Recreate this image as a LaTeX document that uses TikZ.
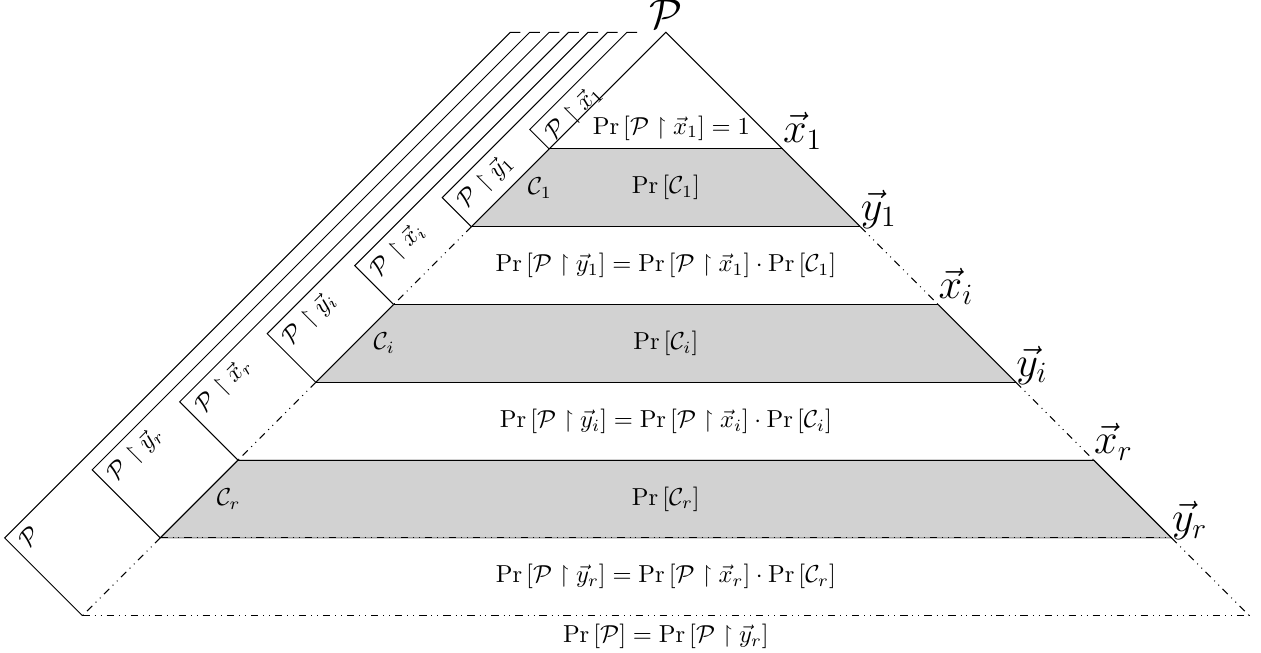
\documentclass[tikz,border=0pt]{standalone}
\usepackage{amsmath,amssymb}
\usepackage{tikz}
\usetikzlibrary{positioning}

\newcommand{\prob}[1]{\Pr\left[#1\right]}
\newcommand{\rst}{\restriction}

\begin{document}
\begin{tikzpicture}[x=1.114cm, y=1.114cm]
    \tikzstyle{gap} = [dash dot dot]
    \tikzstyle{cell} = [fill=gray!35]
    \tikzstyle{point} = [anchor=base west, inner sep=0pt, yshift=2.5pt, font=\LARGE]
    \tikzstyle{striplabel} = [rotate=45, anchor=north west]

    \useasboundingbox (-8.56,-0.479) rectangle (7.65,7.915);

    \coordinate (apex) at (0,7.5);
    \foreach \l in {0,...,6} {
        \coordinate (l\l) at ({\l-7.5},\l);
        \coordinate (r\l) at ({7.5-\l},\l);
    }

    % Shaded conditions
    \fill[cell] (l6) -- (r6) -- (r5) -- (l5) -- cycle;
    \fill[cell] (l4) -- (r4) -- (r3) -- (l3) -- cycle;
    \fill[cell, draw=gray] (l2) -- (r2) -- (r1) -- (l1) -- cycle;

    % Sides of the pyramid
    \draw (l5) -- (apex) -- (r5);
    \draw[gap] (l5) -- (l4);  \draw[gap] (r5) -- (r4);
    \draw (l4) -- (l3);       \draw (r4) -- (r3);
    \draw[gap] (l3) -- (l2);  \draw[gap] (r3) -- (r2);
    \draw (l2) -- (l1);       \draw (r2) -- (r1);
    \draw[gap] (l1) -- (l0);  \draw[gap] (r1) -- (r0);

    % Levels
    \foreach \l in {2,...,6} {
        \draw (l\l) -- (r\l);
    }
    \draw[gap] (l1) -- (r1);
    \draw[gap] (l0) -- (r0);

    % Strips along the left side
    \foreach \k/\lab in {1/{\mathcal{P}\rst\vec{x}_1}, 2/{\mathcal{P}\rst\vec{y}_1},
                         3/{\mathcal{P}\rst\vec{x}_i}, 4/{\mathcal{P}\rst\vec{y}_i},
                         5/{\mathcal{P}\rst\vec{x}_r}, 6/{\mathcal{P}\rst\vec{y}_r},
                         7/{\mathcal{P}}} {
        \pgfmathtruncatemacro{\lev}{7-\k}
        \pgfmathsetmacro{\s}{0.25*\k+0.25}
        \draw (l\lev) -- ++({-\s/2},{\s/2}) coordinate (o\k) -- ({-\s},7.5) -- ++(0.13,0);
        \node[striplabel] (s\k) at (o\k) {$\lab$};
    }

    % Points on the right side
    \node[above=1.5pt of apex, inner sep=0pt, font=\LARGE] (top) {$\mathcal{P}$};
    \node[point] (x1) at (r6) {$\vec{x}_1$};
    \node[point] (y1) at (r5) {$\vec{y}_1$};
    \node[point] (xi) at (r4) {$\vec{x}_i$};
    \node[point] (yi) at (r3) {$\vec{y}_i$};
    \node[point] (xr) at (r2) {$\vec{x}_r$};
    \node[point] (yr) at (r1) {$\vec{y}_r$};

    % Probabilities
    \node[anchor=south] (p0) at (0.07,6) {$\prob{\mathcal{P}\rst\vec{x}_1} = 1$};
    \node (c1) at (-1.62,5.5) {$\mathcal{C}_1$};
    \node (pc1) at (0,5.5) {$\prob{\mathcal{C}_1}$};
    \node (p1) at (0,4.5) {$\prob{\mathcal{P}\rst\vec{y}_1} = \prob{\mathcal{P}\rst\vec{x}_1}\cdot\prob{\mathcal{C}_1}$};
    \node (ci) at (-3.62,3.5) {$\mathcal{C}_i$};
    \node (pci) at (0,3.5) {$\prob{\mathcal{C}_i}$};
    \node (pi) at (0,2.5) {$\prob{\mathcal{P}\rst\vec{y}_i} = \prob{\mathcal{P}\rst\vec{x}_i}\cdot\prob{\mathcal{C}_i}$};
    \node (cr) at (-5.62,1.5) {$\mathcal{C}_r$};
    \node (pcr) at (0,1.5) {$\prob{\mathcal{C}_r}$};
    \node (pr) at (0,0.5) {$\prob{\mathcal{P}\rst\vec{y}_r} = \prob{\mathcal{P}\rst\vec{x}_r}\cdot\prob{\mathcal{C}_r}$};
    \node[anchor=north] (pall) at (0,0) {$\prob{\mathcal{P}} = \prob{\mathcal{P}\rst\vec{y}_r}$};
\end{tikzpicture}
\end{document}
